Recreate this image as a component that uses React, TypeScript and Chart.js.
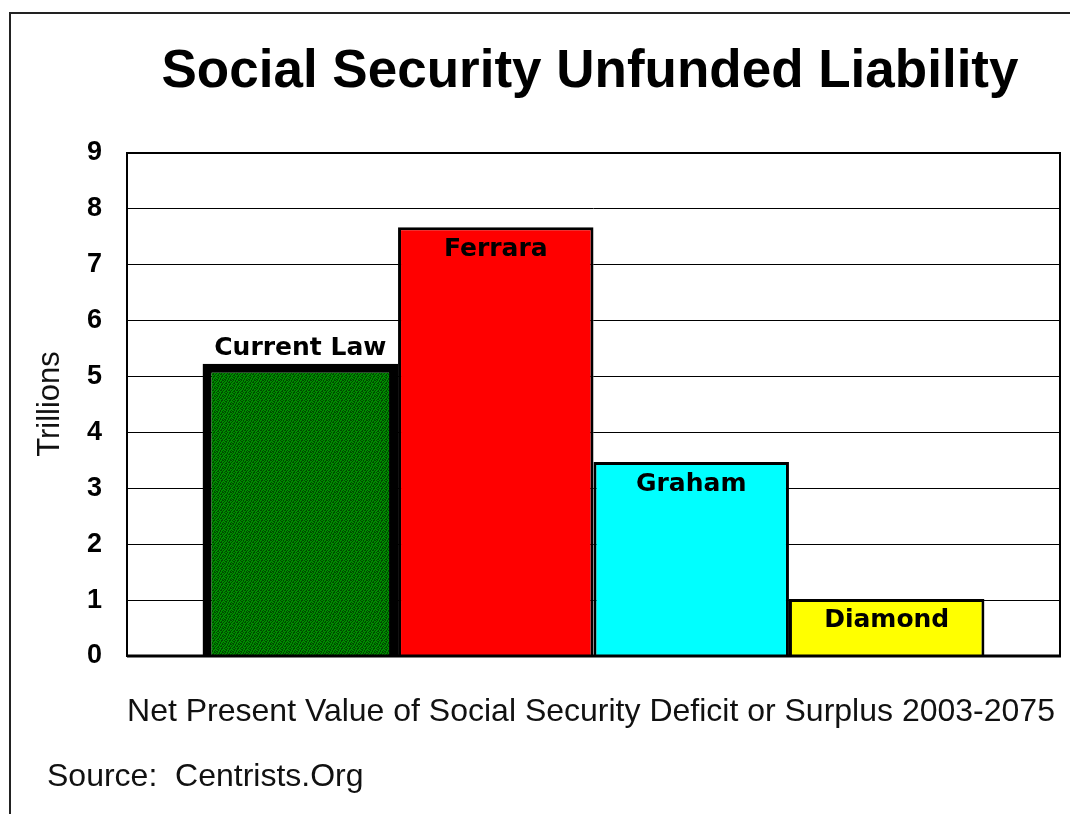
import { useEffect, useRef } from "react";
import { Chart, registerables } from "chart.js";

Chart.register(...registerables);

const titleText = "Social Security Unfunded Liability";
const yAxisTitle = "Trillions";
const xAxisTitle = "Net Present Value of Social Security Deficit or Surplus 2003-2075";
const sourceText = "Source:  Centrists.Org";

const categories = ["Current Law", "Ferrara", "Graham", "Diamond"];
const values = [5.23, 7.67, 3.47, 1.02];
const fillColors = ["pattern", "#ff0000", "#00ffff", "#ffff00"];
const borderWidths = [9, 3, 3, 3];
const labelAbove = [true, false, false, false];

const yMin = 0;
const yMax = 9;
const yStep = 1;

const SANS = "'Liberation Sans', Arial, sans-serif";

function makeGreenPattern(ctx: CanvasRenderingContext2D) {
  const tile = [
    "10010110",
    "01100100",
    "00101001",
    "11001010",
    "01010011",
    "10010100",
    "00101101",
    "01100010",
  ];
  const pc = document.createElement("canvas");
  pc.width = 8;
  pc.height = 8;
  const p = pc.getContext("2d")!;
  for (let r = 0; r < 8; r++) {
    for (let c = 0; c < 8; c++) {
      p.fillStyle = tile[r][c] === "1" ? "#004a00" : "#008c00";
      p.fillRect(c, r, 1, 1);
    }
  }
  return ctx.createPattern(pc, "repeat")!;
}

export default function App() {
  const ref = useRef<HTMLCanvasElement>(null);

  useEffect(() => {
    const canvas = ref.current!;
    const ctx = canvas.getContext("2d")!;
    const pattern = makeGreenPattern(ctx);

    const decor = {
      id: "decor",
      beforeDraw(chart: any) {
        const c = chart.ctx;
        c.save();
        c.fillStyle = "#ffffff";
        c.fillRect(0, 0, chart.width, chart.height);
        c.strokeStyle = "#222";
        c.lineWidth = 2;
        c.beginPath();
        c.moveTo(10, chart.height + 10);
        c.lineTo(10, 13);
        c.lineTo(chart.width + 10, 13);
        c.stroke();
        c.restore();
      },
      afterDatasetsDraw(chart: any) {
        const c = chart.ctx;
        const a = chart.chartArea;
        c.save();
        // plot frame
        c.strokeStyle = "#000";
        c.lineWidth = 2;
        c.strokeRect(a.left, a.top, a.right - a.left, a.bottom - a.top);
        c.lineWidth = 3;
        c.beginPath();
        c.moveTo(a.left, a.bottom);
        c.lineTo(a.right + 1, a.bottom);
        c.stroke();

        // bar labels
        c.fillStyle = "#000";
        c.font = "bold 25px 'DejaVu Sans', sans-serif";
        c.textAlign = "center";
        c.textBaseline = "middle";
        chart.data.datasets.forEach((ds: any, i: number) => {
          const el = chart.getDatasetMeta(i).data[0];
          if (!el) return;
          const y = ds.labelAbove ? el.y - 15 : el.y + 22;
          c.fillText(ds.label, el.x, y);
        });

        // title
        c.font = `bold 53px ${SANS}`;
        c.fillText(titleText, 590, 72);

        // x axis title
        c.font = `32px ${SANS}`;
        c.fillStyle = "#111";
        c.fillText(xAxisTitle, 591, 712);

        // source
        c.textAlign = "left";
        c.fillText(sourceText, 47, 777);

        // y axis title
        c.save();
        c.translate(50, 404);
        c.rotate(-Math.PI / 2);
        c.textAlign = "center";
        c.font = `31px ${SANS}`;
        c.fillText(yAxisTitle, 0, 0);
        c.restore();

        c.restore();
      },
    };

    const chart = new Chart(canvas, {
      type: "bar",
      data: {
        labels: [""],
        datasets: categories.map((name, i) => ({
          label: name,
          data: [values[i]],
          backgroundColor: fillColors[i] === "pattern" ? pattern : fillColors[i],
          borderColor: "#000",
          borderWidth: borderWidths[i],
          borderSkipped: "start",
          categoryPercentage: 0.838,
          barPercentage: 1,
          labelAbove: labelAbove[i],
        })) as any,
      },
      options: {
        responsive: false,
        animation: false,
        devicePixelRatio: 1,
        layout: { padding: { left: 0, top: 153, right: 10, bottom: 0 } },
        plugins: {
          legend: { display: false },
          title: { display: false },
          tooltip: { enabled: false },
        },
        scales: {
          x: {
            grid: { display: false },
            border: { display: false },
            ticks: { display: false },
            afterFit: (s: any) => {
              s.height = 158;
            },
          },
          y: {
            min: yMin,
            max: yMax,
            ticks: {
              stepSize: yStep,
              color: "#000",
              padding: 25,
              font: { family: SANS, size: 27, weight: "bold" },
            },
            grid: { color: "#000", lineWidth: 1, drawTicks: false },
            border: { display: false },
            afterFit: (s: any) => {
              s.width = 127;
            },
          },
        },
      } as any,
      plugins: [decor],
    });

    return () => chart.destroy();
  }, []);

  return (
    <div
      style={{
        position: "absolute",
        left: 0,
        top: 0,
        width: 1070,
        height: 814,
        background: "#fff",
        overflow: "hidden",
      }}
    >
      <canvas
        ref={ref}
        width={1070}
        height={814}
        style={{ display: "block", width: 1070, height: 814 }}
      />
    </div>
  );
}
